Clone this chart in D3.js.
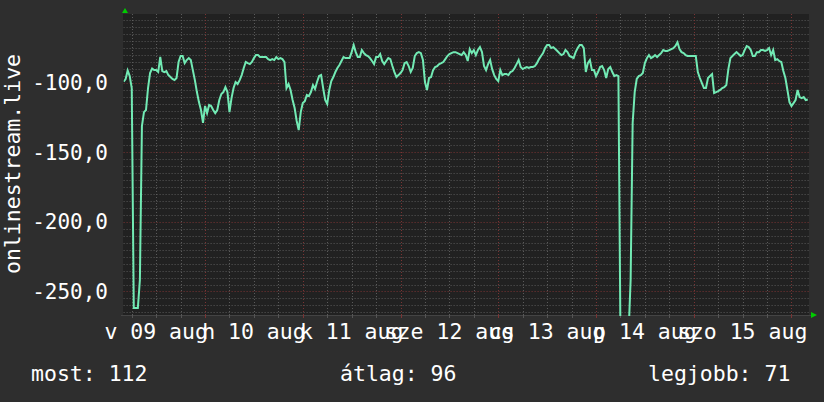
<!DOCTYPE html>
<html>
<head>
<meta charset="utf-8">
<script src="https://cdn.jsdelivr.net/npm/d3@7/dist/d3.min.js"></script>
<style>
  body { margin: 0; background: #2e2e2e; }
  text { font-family: "DejaVu Sans Mono", monospace; fill: #ffffff; }
</style>
</head>
<body>
<svg width="824" height="402"></svg>
<script>
// half-hourly rank of onlinestream.live, from 2015-08-09 04:00 (plotted negated)
var rank = [
  99.3, 97.3, 91.2, 95.2, 103.8, 261.9, 261.9, 261.9, 241.7, 131.1,
  121.1, 119.6, 103.8, 93.0, 89.8, 90.9, 90.9, 92.3, 81.5, 91.6,
  92.3, 91.6, 94.5, 95.9, 97.3, 98.1, 96.6, 85.1, 80.8, 80.8,
  85.9, 83.7, 82.3, 83.7, 90.9, 98.1, 106.7, 113.9, 119.6, 128.9,
  116.7, 121.8, 116.0, 116.7, 119.6, 121.8, 119.6, 112.4, 108.1, 106.7,
  103.1, 106.7, 121.1, 111.0, 103.8, 99.5, 100.9, 98.1, 94.5, 89.4,
  85.1, 85.9, 86.6, 85.1, 82.3, 80.1, 80.1, 81.5, 81.5, 81.5,
  81.5, 83.0, 83.7, 83.0, 83.7, 81.5, 83.0, 82.3, 83.0, 85.1,
  103.8, 100.9, 105.2, 112.4, 118.2, 127.5, 134.0, 121.1, 114.6, 113.2,
  108.8, 109.6, 106.7, 101.7, 104.5, 99.5, 95.2, 94.5, 103.8, 112.4,
  115.3, 105.2, 98.8, 95.9, 92.3, 89.4, 87.3, 84.4, 81.5, 82.3,
  82.3, 82.3, 78.0, 72.9, 78.0, 81.5, 81.5, 76.5, 78.7, 80.1,
  80.8, 82.3, 84.4, 86.6, 81.5, 81.5, 79.4, 84.4, 86.6, 84.4,
  82.3, 83.0, 88.0, 92.3, 95.9, 94.5, 93.0, 90.9, 85.9, 85.1,
  88.0, 92.3, 89.4, 80.8, 78.7, 78.0, 78.7, 83.7, 99.5, 105.2,
  96.6, 95.9, 90.9, 88.7, 88.0, 86.6, 85.9, 85.1, 83.0, 80.8,
  79.4, 78.7, 78.0, 78.0, 78.7, 79.4, 80.1, 78.0, 80.1, 84.4,
  75.8, 78.7, 76.5, 80.1, 76.5, 74.4, 78.0, 88.0, 90.9, 86.6,
  83.7, 90.2, 94.5, 97.3, 98.8, 90.9, 94.5, 93.8, 93.8, 94.5,
  92.3, 91.6, 89.4, 86.6, 83.7, 88.7, 90.2, 89.4, 88.7, 89.4,
  88.7, 88.7, 88.0, 85.9, 83.0, 80.8, 78.7, 75.1, 72.9, 72.9,
  75.1, 74.4, 75.8, 77.2, 78.7, 80.1, 79.4, 76.5, 78.0, 80.8,
  81.5, 82.3, 78.0, 75.1, 72.9, 72.9, 75.1, 92.3, 85.9, 83.7,
  90.9, 90.9, 95.2, 92.3, 88.7, 88.0, 90.9, 96.6, 90.2, 88.7,
  92.3, 95.2, 94.5, 95.2, 280.0, 280.0, 280.0, 280.0, 280.0, 241.7,
  128.9, 106.7, 97.3, 95.2, 94.5, 93.0, 85.9, 82.3, 80.1, 82.3,
  81.5, 80.1, 81.5, 80.1, 78.7, 76.5, 77.2, 77.2, 76.5, 75.8,
  75.1, 73.6, 71.0, 75.8, 78.0, 78.7, 80.1, 80.8, 80.8, 80.8,
  80.8, 80.8, 92.3, 96.6, 100.2, 103.8, 103.8, 96.6, 95.2, 93.8,
  107.4, 106.7, 106.0, 105.2, 103.8, 103.1, 101.7, 90.2, 82.3, 80.8,
  79.4, 78.0, 79.4, 80.8, 80.1, 76.5, 73.6, 74.4, 76.5, 80.8,
  80.8, 78.0, 78.0, 76.5, 76.5, 77.2, 76.5, 75.1, 80.1, 76.5,
  83.7, 83.0, 84.4, 85.1, 91.6, 96.6, 105.2, 113.9, 116.7, 114.6,
  112.4, 105.2, 110.3, 111.0, 110.3, 112.4, 112.0
];
var dayLabels = ["v 09 aug", "h 10 aug", "k 11 aug", "sze 12 aug", "cs 13 aug", "p 14 aug", "szo 15 aug"];
var yTickValues = [-100, -150, -200, -250];
var yTickLabels = ["-100,0", "-150,0", "-200,0", "-250,0"];
var legendTexts = ["most: 112", "átlag: 96", "legjobb: 71"];
var axisTitle = "onlinestream.live";

(function() {
    var svg = d3.select("svg"),
        pLeft = 123.6, pRight = 809, pTop = 14, pBottom = 315,
        hour = 3600 * 1000,
        start = Date.UTC(2015, 7, 9, 4, 0);

    var x = d3.scaleUtc()
        .domain([new Date(start), new Date(start + 168.3 * hour)])
        .range([pLeft, pRight]);
    var y = d3.scaleLinear()
        .domain([-266.9, -50.6])
        .range([pBottom, pTop]);

    svg.append("rect")
        .attr("x", 123).attr("y", pTop)
        .attr("width", pRight - 123).attr("height", pBottom - pTop)
        .attr("fill", "#212121");

    // minor grid
    var minorY = d3.range(-265, -50, 5).filter(function(v) { return v % 50 !== 0; });
    svg.append("g").selectAll("line")
        .data(minorY)
        .enter().append("line")
        .attr("x1", pLeft).attr("x2", pRight)
        .attr("y1", function(d) { return Math.round(y(d)) + 0.5; })
        .attr("y2", function(d) { return Math.round(y(d)) + 0.5; })
        .attr("stroke", "#5a5a5a").attr("stroke-dasharray", "1,2");

    var sixHours = d3.utcHour.every(6).range(x.domain()[0], x.domain()[1]);
    var minorX = sixHours.filter(function(d) { return d.getUTCHours() !== 0; });
    var majorX = sixHours.filter(function(d) { return d.getUTCHours() === 0; });

    svg.append("g").selectAll("line")
        .data(minorX)
        .enter().append("line")
        .attr("x1", function(d) { return Math.round(x(d)) + 0.5; })
        .attr("x2", function(d) { return Math.round(x(d)) + 0.5; })
        .attr("y1", pTop).attr("y2", pBottom)
        .attr("stroke", "#5a5a5a").attr("stroke-dasharray", "1,2");

    // major grid
    svg.append("g").selectAll("line")
        .data(yTickValues)
        .enter().append("line")
        .attr("x1", pLeft).attr("x2", pRight)
        .attr("y1", function(d) { return Math.round(y(d)) + 0.5; })
        .attr("y2", function(d) { return Math.round(y(d)) + 0.5; })
        .attr("stroke", "#7a3434").attr("stroke-dasharray", "1,2");

    svg.append("g").selectAll("line")
        .data(majorX)
        .enter().append("line")
        .attr("x1", function(d) { return Math.round(x(d)) + 0.5; })
        .attr("x2", function(d) { return Math.round(x(d)) + 0.5; })
        .attr("y1", pTop).attr("y2", pBottom)
        .attr("stroke", "#7a3434").attr("stroke-dasharray", "1,2");

    // axis line and ticks
    svg.append("line")
        .attr("x1", 121).attr("x2", pRight + 2)
        .attr("y1", pBottom + 0.5).attr("y2", pBottom + 0.5)
        .attr("stroke", "#444");
    svg.append("g").selectAll("line")
        .data(sixHours)
        .enter().append("line")
        .attr("x1", function(d) { return Math.round(x(d)) + 0.5; })
        .attr("x2", function(d) { return Math.round(x(d)) + 0.5; })
        .attr("y1", pBottom).attr("y2", pBottom + 3)
        .attr("stroke", function(d) { return d.getUTCHours() === 0 ? "#7a3434" : "#555"; });

    svg.append("path")
        .attr("d", "M122,13 L125,8 L128,13 Z")
        .attr("fill", "#00cc00");
    svg.append("path")
        .attr("d", "M811,312 L817,315 L811,318 Z")
        .attr("fill", "#00cc00");

    // data line
    svg.append("clipPath").attr("id", "plot")
        .append("rect")
        .attr("x", pLeft).attr("y", pTop)
        .attr("width", pRight - pLeft).attr("height", pBottom - pTop + 1);

    var line = d3.line()
        .x(function(d, i) { return x(new Date(start + i * hour / 2)); })
        .y(function(d) { return y(-d); });

    svg.append("path")
        .datum(rank)
        .attr("clip-path", "url(#plot)")
        .attr("d", line)
        .attr("fill", "none")
        .attr("stroke", "#72eab4")
        .attr("stroke-width", 2)
        .attr("stroke-linejoin", "miter");

    // labels
    svg.append("g").selectAll("text")
        .data(yTickValues)
        .enter().append("text")
        .attr("x", 108)
        .attr("y", function(d) { return y(d) + 7.5; })
        .attr("text-anchor", "end")
        .attr("font-size", "21px")
        .text(function(d, i) { return yTickLabels[i]; });

    svg.append("g").selectAll("text")
        .data(dayLabels)
        .enter().append("text")
        .attr("x", function(d, i) { return x(new Date(Date.UTC(2015, 7, 9 + i, 12))); })
        .attr("y", 339)
        .attr("text-anchor", "middle")
        .attr("font-size", "21.5px")
        .text(function(d) { return d; });

    svg.append("text")
        .attr("transform", "translate(20,164) rotate(-90)")
        .attr("text-anchor", "middle")
        .attr("font-size", "21.5px")
        .text(axisTitle);

    var legendX = [31, 340, 648];
    svg.append("g").selectAll("text")
        .data(legendTexts)
        .enter().append("text")
        .attr("x", function(d, i) { return legendX[i]; })
        .attr("y", 381)
        .attr("font-size", "21.5px")
        .text(function(d) { return d; });
})();
</script>
</body>
</html>
